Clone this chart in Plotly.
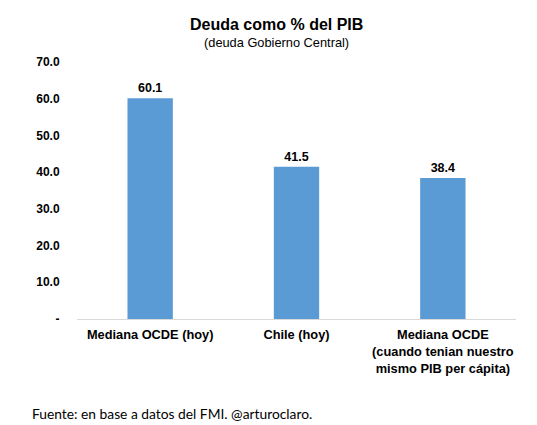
import plotly.graph_objects as go

categories = ["Mediana OCDE (hoy)", "Chile (hoy)",
              "Mediana OCDE<br>(cuando tenian nuestro<br>mismo PIB per cápita)"]
values = [60.1, 41.5, 38.4]
tick_vals = [0, 10, 20, 30, 40, 50, 60, 70]
tick_text = ["-", "10.0", "20.0", "30.0", "40.0", "50.0", "60.0", "70.0"]

# plot area in screen pixels (page has an 8px body margin)
PL, PR, PT, PB = 77, 516, 62, 319
def px(x): return (x - PL) / (PR - PL)
def py(y): return (PB - y) / (PB - PT)

fig = go.Figure()
fig.add_trace(go.Bar(
    x=categories, y=values,
    marker=dict(color="#5B9BD5", line=dict(width=0)),
    width=0.31,
    text=[f"{v:.1f}" for v in values],
    textposition="outside",
    textfont=dict(family="Liberation Sans", size=12.5, color="#000000"),
    texttemplate="<b>%{text}</b>",
    cliponaxis=False,
))

fig.update_layout(
    width=537, height=425,
    margin=dict(l=PL - 8, r=537 - (PR - 8), t=PT - 8, b=425 - (PB - 8)),
    paper_bgcolor="white", plot_bgcolor="white",
    showlegend=False,
    font=dict(family="Liberation Sans", color="#000000"),
    xaxis=dict(
        showgrid=False, showline=True, linecolor="#D9D9D9", linewidth=1,
        ticks="outside", ticklen=4, tickcolor="rgba(0,0,0,0)",
        tickfont=dict(family="Liberation Sans", size=12.8, color="#000000", weight="bold"),
    ),
    yaxis=dict(
        range=[0, 70], showgrid=False, showline=False, zeroline=False,
        tickvals=tick_vals, ticktext=tick_text,
        ticks="outside", ticklen=14, tickcolor="rgba(0,0,0,0)",
        tickfont=dict(family="Liberation Sans", size=12, color="#000000", weight="bold"),
    ),
    annotations=[
        dict(text="<b>Deuda como % del PIB</b>", x=px(276), y=py(24),
             xref="paper", yref="paper", xanchor="center", yanchor="middle",
             showarrow=False, font=dict(family="Liberation Sans", size=16, color="#000000")),
        dict(text="(deuda Gobierno Central)", x=px(276), y=py(42),
             xref="paper", yref="paper", xanchor="center", yanchor="middle",
             showarrow=False, font=dict(family="Liberation Sans", size=12.8, color="#000000")),
        dict(text="Fuente: en base a datos del FMI. @arturoclaro.", x=px(30), y=py(413),
             xref="paper", yref="paper", xanchor="left", yanchor="middle",
             showarrow=False, font=dict(family="Lato", size=13.8, color="#000000")),
    ],
)

fig.write_html("out.html")
